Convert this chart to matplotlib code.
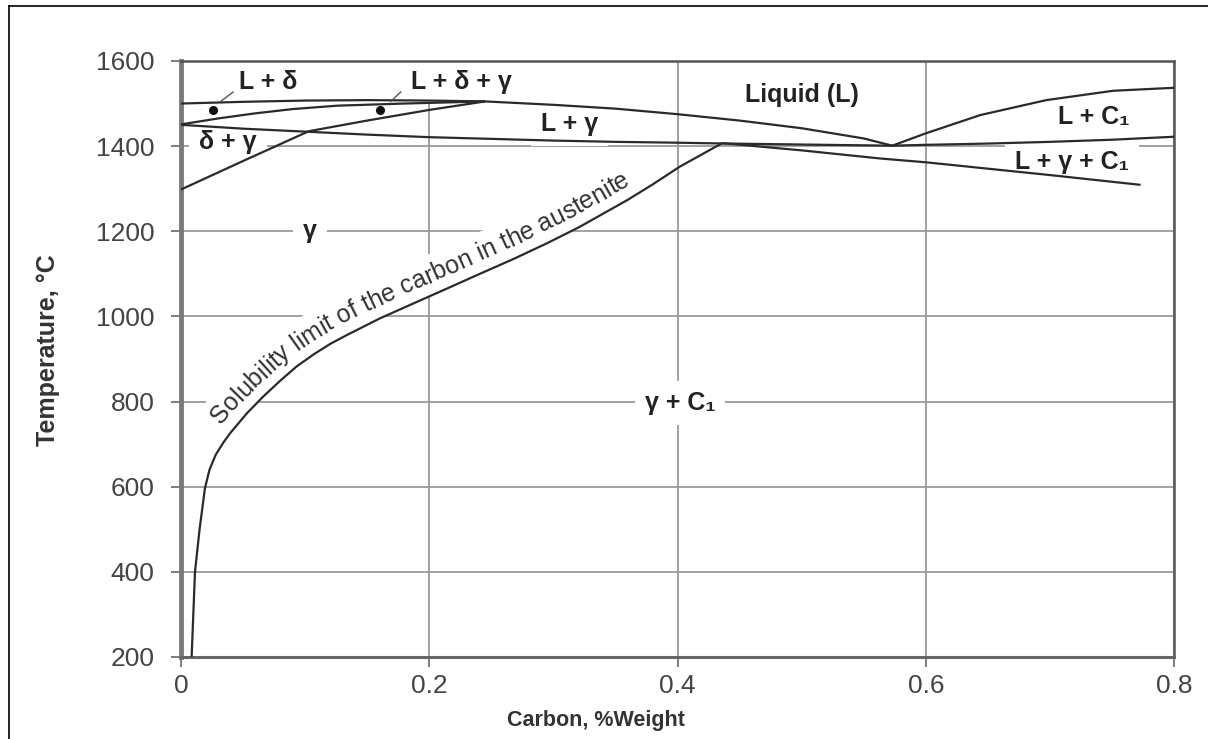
import numpy as np
import matplotlib.pyplot as plt
from matplotlib.lines import Line2D
from matplotlib.transforms import IdentityTransform

plt.rcParams['font.family'] = ['Liberation Sans', 'DejaVu Sans']

liq_x = [0, 0.05, 0.1, 0.15, 0.2, 0.245, 0.3, 0.35, 0.4, 0.45, 0.5, 0.55, 0.573]
liq_T = [1500, 1504, 1507, 1508, 1507, 1505, 1497, 1488, 1475, 1460, 1442, 1418, 1401]

sol_d_x = [0, 0.03, 0.06, 0.09, 0.126, 0.18, 0.245]
sol_d_T = [1451, 1465, 1477, 1487, 1495, 1500, 1505]

dg_x = [0, 0.05, 0.103, 0.15, 0.2, 0.245]
dg_T = [1298, 1365, 1435, 1460, 1485, 1505]

sol_g_x = [0, 0.05, 0.1, 0.15, 0.2, 0.25, 0.3, 0.35, 0.4, 0.44]
sol_g_T = [1450, 1441, 1434, 1427, 1421, 1417, 1413, 1410, 1408, 1406]

eut_x = [0.44, 0.573]
eut_T = [1406, 1401]

liq_c_x = [0.573, 0.6, 0.644, 0.697, 0.751, 0.8]
liq_c_T = [1401, 1430, 1473, 1508, 1530, 1537]

lc_x = [0.573, 0.6, 0.65, 0.7, 0.75, 0.8]
lc_T = [1401, 1403, 1406, 1410, 1415, 1422]

lgc_x = [0.436, 0.5, 0.563, 0.6, 0.7, 0.773]
lgc_T = [1407, 1390, 1371, 1362, 1332, 1309]

solv_x = [0.0086, 0.0113, 0.015, 0.0193, 0.023, 0.028, 0.034, 0.04, 0.053, 0.066,
          0.08, 0.093, 0.107, 0.12, 0.1335, 0.16, 0.19, 0.214, 0.24, 0.268,
          0.295, 0.321, 0.36, 0.38, 0.402, 0.436]
solv_T = [200, 400, 500, 596, 640, 675, 703, 727, 772, 811,
          849, 882, 911, 935, 956, 995, 1034, 1065, 1099, 1135,
          1172, 1210, 1274, 1310, 1352, 1407]

xticks = [0, 0.2, 0.4, 0.6, 0.8]
xtick_labels = ['0', '0.2', '0.4', '0.6', '0.8']
yticks = [200, 400, 600, 800, 1000, 1200, 1400, 1600]

# etiquetas de las regiones
regiones = [
    ('Liquid (L)', 0.50, 1521),
    ('L + δ', 0.070, 1551),
    ('L + δ + γ', 0.226, 1551),
    ('L + γ', 0.313, 1451),
    ('δ + γ', 0.038, 1410),
    ('γ', 0.104, 1200),
    ('γ + C₁', 0.402, 797),
    ('L + C₁', 0.735, 1469),
    ('L + γ + C₁', 0.718, 1363),
]
puntos_x = [0.0255, 0.160]
puntos_T = [1485, 1485]

texto_curva = 'Solubility limit of the carbon in the austenite'
inicio_texto = (0.0193, 757)   # donde empieza la "S"

fig = plt.figure(figsize=(12.08, 7.39), dpi=100)
ax = fig.add_axes([0.1498, 0.1110, 0.8221, 0.8065])

ax.set_xlim(0, 0.8)
ax.set_ylim(200, 1600)
ax.set_xticks(xticks)
ax.set_xticklabels(xtick_labels)
ax.set_yticks(yticks)
ax.grid(True, color='#9a9a9a', lw=1.3, zorder=0)
ax.set_axisbelow(True)

lc = '#2a2a2a'
for xs, ts in [(liq_x, liq_T), (sol_d_x, sol_d_T), (dg_x, dg_T), (sol_g_x, sol_g_T),
               (eut_x, eut_T), (liq_c_x, liq_c_T), (lc_x, lc_T), (lgc_x, lgc_T),
               (solv_x, solv_T)]:
    ax.plot(xs, ts, color=lc, lw=1.6, zorder=4, solid_capstyle='butt',
            solid_joinstyle='round')

ax.plot(puntos_x, puntos_T, 'o', color='#111', ms=5.5, zorder=5)
# lineas guia de los puntos
ax.plot([0.032, 0.042], [1505, 1527], color='#555', lw=1, zorder=4)
ax.plot([0.169, 0.177], [1505, 1527], color='#555', lw=1, zorder=4)

for txt, x, t in regiones:
    ax.text(x, t, txt, ha='center', va='center', fontsize=18, fontweight='bold',
            color='#222', zorder=2,
            bbox=dict(boxstyle='square,pad=0.4', fc='white', ec='none'))

# texto a lo largo de la curva de solubilidad (letra por letra)
fig.canvas.draw()
ren = fig.canvas.get_renderer()
fs_curva = 18

def ancho(s):
    t = ax.text(0, 0, s, fontsize=fs_curva, transform=IdentityTransform())
    w = t.get_window_extent(renderer=ren).width
    t.remove()
    return w

pts = ax.transData.transform(np.column_stack([solv_x, solv_T]))
d = np.diff(pts, axis=0)
d = d / np.hypot(d[:, 0], d[:, 1])[:, None]
nrm = np.column_stack([-d[:, 1], d[:, 0]])
nv = np.vstack([nrm[:1], (nrm[:-1] + nrm[1:]) / 2, nrm[-1:]])
nv = nv / np.hypot(nv[:, 0], nv[:, 1])[:, None]
off = pts + 12 * nv
sl = np.concatenate([[0], np.cumsum(np.hypot(*np.diff(off, axis=0).T))])

def punto(s):
    return np.interp(s, sl, off[:, 0]), np.interp(s, sl, off[:, 1])

p0 = ax.transData.transform(inicio_texto)
s0 = sl[np.argmin(np.hypot(off[:, 0] - p0[0], off[:, 1] - p0[1]))]
w_esp = ancho('a a') - ancho('aa')
pos = s0
for c in texto_curva:
    w = w_esp if c == ' ' else ancho(c)
    if c != ' ':
        sc = pos + w / 2
        xa, ya = punto(sc - w)
        xb, yb = punto(sc + w)
        ang = np.degrees(np.arctan2(yb - ya, xb - xa))
        xc, yc = punto(sc)
        # fondo blanco que corta la cuadricula
        ax.text(xc, yc, c, fontsize=fs_curva, color='white', ha='center', va='baseline',
                rotation=ang, rotation_mode='anchor', transform=IdentityTransform(),
                zorder=1.5, bbox=dict(boxstyle='square,pad=0.3', fc='white', ec='none'))
        ax.text(xc, yc, c, fontsize=fs_curva, color='#333', ha='center', va='baseline',
                rotation=ang, rotation_mode='anchor', transform=IdentityTransform(),
                zorder=2.5)
    pos += w

for s in ['top', 'right']:
    ax.spines[s].set_color('#555')
    ax.spines[s].set_linewidth(1.8)
ax.spines['left'].set_color('#7a7a7a')
ax.spines['left'].set_linewidth(3.5)
ax.spines['bottom'].set_color('#666')
ax.spines['bottom'].set_linewidth(2.2)

ax.tick_params(axis='both', direction='out', length=7, width=1.2, color='#666',
               labelsize=19, labelcolor='#444')
ax.tick_params(axis='x', pad=5)
ax.tick_params(axis='y', pad=12)

ax.set_xlabel('Carbon, %Weight', fontsize=15.5, fontweight='bold', color='#333')
ax.set_ylabel('Temperature, °C', fontsize=18, fontweight='bold', color='#333')
ax.xaxis.set_label_coords(0.418, -0.089)
ax.yaxis.set_label_coords(-0.122, 0.515)

# marco exterior (arriba e izquierda)
fig.add_artist(Line2D([8.5 / 1208, 8.5 / 1208], [0, 1 - 5.5 / 739], color='black', lw=1.2))
fig.add_artist(Line2D([8.5 / 1208, 1], [1 - 5.5 / 739, 1 - 5.5 / 739], color='black', lw=1.2))

fig.savefig('out.png', dpi=100, facecolor='white')
